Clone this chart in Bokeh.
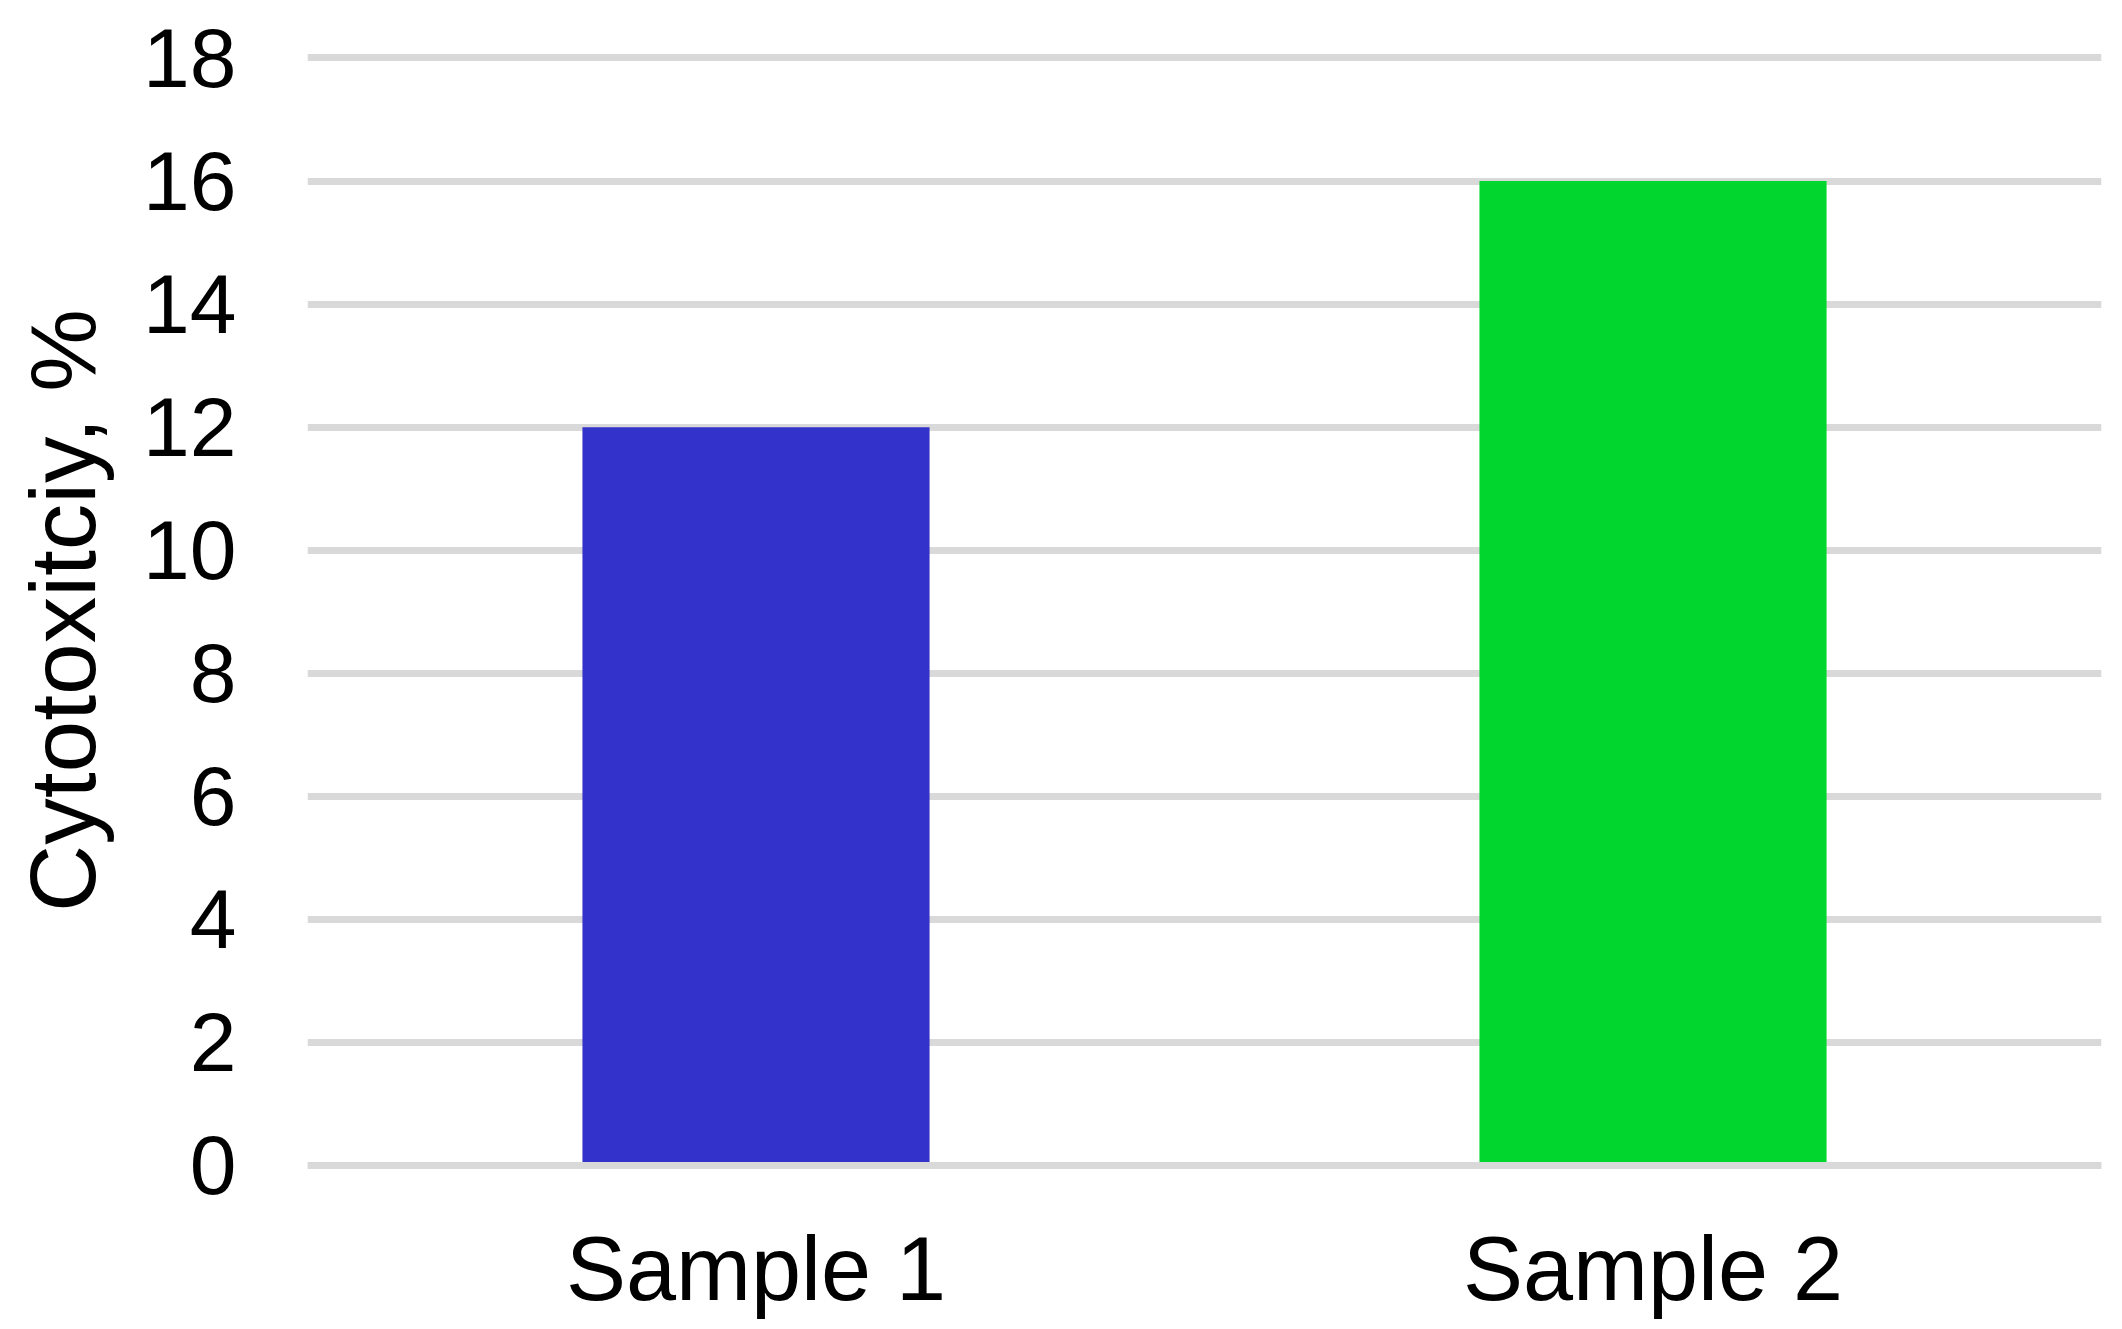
from bokeh.plotting import figure
from bokeh.models import ColumnDataSource, FactorRange, Range1d, FixedTicker, Span
from bokeh.embed import file_html
from bokeh.resources import INLINE

categories = ["Sample 1", "Sample 2"]
values = [12, 16]
colors = ["#3333CC", "#00D62E"]
y_ticks = [0, 2, 4, 6, 8, 10, 12, 14, 16, 18]
y_title = "Cytotoxitciy, %"

source = ColumnDataSource(data=dict(cat=categories, val=values, color=colors))

p = figure(
    width=2106, height=1326,
    x_range=FactorRange(*categories, range_padding=0),
    y_range=Range1d(-0.2438, 18.284),
    output_backend="svg", toolbar_location=None,
    min_border_left=307, min_border_right=5,
    min_border_top=40, min_border_bottom=146,
)
p.outline_line_color = None
p.background_fill_color = "white"
p.border_fill_color = "white"

p.vbar(x="cat", top="val", bottom=0, width=0.387, color="color", source=source, line_color=None)

zero_line = Span(location=0, dimension="width", line_color="#D9D9D9", line_width=7, level="overlay")
p.add_layout(zero_line)

p.xgrid.grid_line_color = None
p.ygrid.grid_line_color = "#D9D9D9"
p.ygrid.grid_line_width = 7
p.ygrid.ticker = FixedTicker(ticks=y_ticks)

p.yaxis.ticker = FixedTicker(ticks=y_ticks)
p.yaxis.axis_line_color = None
p.yaxis.major_tick_line_color = None
p.yaxis.minor_tick_line_color = None
p.yaxis.major_tick_out = 0
p.yaxis.major_label_standoff = 71
p.yaxis.major_label_text_font = "Liberation Sans"
p.yaxis.major_label_text_font_size = "84px"
p.yaxis.major_label_text_color = "black"
p.yaxis.axis_label = y_title
p.yaxis.axis_label_text_font = "Liberation Sans"
p.yaxis.axis_label_text_font_size = "93px"
p.yaxis.axis_label_text_font_style = "normal"
p.yaxis.axis_label_text_color = "black"
p.yaxis.axis_label_standoff = 25

p.xaxis.axis_line_color = None
p.xaxis.major_tick_line_color = None
p.xaxis.minor_tick_line_color = None
p.xaxis.major_tick_out = 0
p.xaxis.major_label_standoff = 38
p.xaxis.major_label_text_font = "Liberation Sans"
p.xaxis.major_label_text_font_size = "90px"
p.xaxis.major_label_text_color = "black"

open("out.html", "w").write(file_html(p, INLINE))
